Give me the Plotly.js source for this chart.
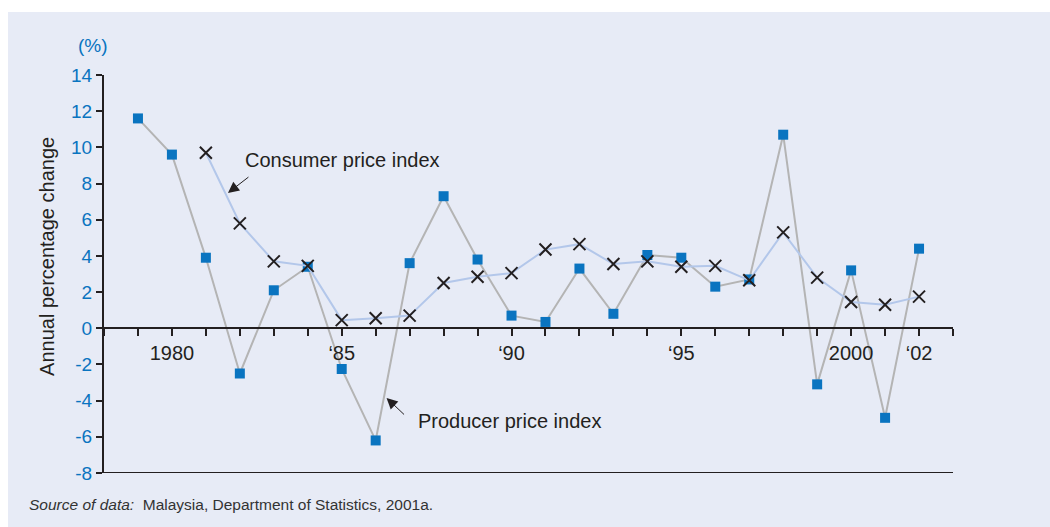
<!DOCTYPE html>
<html>
<head>
<meta charset="utf-8">
<script src="https://cdn.plot.ly/plotly-3.0.1.min.js"></script>
<style>
html,body{margin:0;padding:0;background:#ffffff;}
#chart{position:absolute;left:8px;top:12px;width:1042px;height:515px;}
</style>
</head>
<body>
<div id="chart"></div>
<script>
// Data
const ppiYears = [1979,1980,1981,1982,1983,1984,1985,1986,1987,1988,1989,1990,1991,1992,1993,1994,1995,1996,1997,1998,1999,2000,2001,2002];
const ppiValues = [11.6,9.6,3.9,-2.5,2.1,3.4,-2.25,-6.2,3.6,7.3,3.8,0.7,0.35,3.3,0.8,4.05,3.9,2.3,2.7,10.7,-3.1,3.2,-4.95,4.4];
const cpiYears = [1981,1982,1983,1984,1985,1986,1987,1988,1989,1990,1991,1992,1993,1994,1995,1996,1997,1998,1999,2000,2001,2002];
const cpiValues = [9.7,5.8,3.7,3.45,0.45,0.55,0.7,2.5,2.85,3.05,4.35,4.65,3.55,3.7,3.4,3.45,2.65,5.3,2.8,1.45,1.3,1.75];
const xTickVals = [1978,1979,1980,1981,1982,1983,1984,1985,1986,1987,1988,1989,1990,1991,1992,1993,1994,1995,1996,1997,1998,1999,2000,2001,2002,2003];
const xTickText = ['','','1980','','','','','\u201885','','','','','\u201890','','','','','\u201895','','','','','2000','','\u201802',''];
const yTickVals = [-8,-6,-4,-2,0,2,4,6,8,10,12,14];
const yTickText = ['-8','-6','-4','-2','0','2','4','6','8','10','12','14'];

const FONT = '"Liberation Sans Narrow", "Liberation Sans", Arial, sans-serif';
const BLUE = '#0a74c0';
const DARK = '#231f20';

const traces = [
  {
    x: ppiYears, y: ppiValues, type: 'scatter', mode: 'lines+markers',
    name: 'Producer price index',
    line: {color: '#b4b4b4', width: 2},
    marker: {symbol: 'square', size: 10, color: BLUE},
    cliponaxis: false
  },
  {
    x: cpiYears, y: cpiValues, type: 'scatter', mode: 'lines+markers',
    name: 'Consumer price index',
    line: {color: '#b3c7ea', width: 2},
    marker: {symbol: 'x-thin-open', size: 12, color: DARK, line: {color: DARK, width: 2}},
    cliponaxis: false
  }
];

const layout = {
  width: 1042, height: 515,
  paper_bgcolor: '#e7ebf6',
  plot_bgcolor: 'rgba(0,0,0,0)',
  showlegend: false,
  margin: {l: 96, r: 97, t: 63, b: 54},
  font: {family: FONT, color: DARK},
  xaxis: {
    range: [1978, 2003],
    anchor: 'free', position: 8/22,
    showline: true, linecolor: DARK, linewidth: 2,
    showgrid: false, zeroline: false,
    ticks: 'outside', ticklen: 7, tickwidth: 2, tickcolor: DARK,
    tickmode: 'array', tickvals: xTickVals, ticktext: xTickText,
    tickfont: {family: FONT, size: 20, color: DARK},
    fixedrange: true
  },
  yaxis: {
    range: [-8, 14],
    showline: true, linecolor: DARK, linewidth: 2,
    showgrid: false, zeroline: false,
    ticks: 'outside', ticklen: 6, tickwidth: 2, tickcolor: DARK,
    tickmode: 'array', tickvals: yTickVals, ticktext: yTickText,
    tickfont: {family: FONT, size: 19, color: BLUE},
    fixedrange: true
  },
  shapes: [
    {type: 'line', xref: 'paper', yref: 'y', x0: -0.007, x1: 1, y0: -8, y1: -8,
     line: {color: DARK, width: 2}}
  ],
  annotations: [
    {text: '(%)', xref: 'paper', yref: 'paper', x: -0.013, y: 1.075,
     showarrow: false, xanchor: 'center', yanchor: 'middle',
     font: {family: FONT, size: 19, color: BLUE}},
    {text: 'Annual percentage change', xref: 'paper', yref: 'paper', x: -0.0671, y: 0.543,
     textangle: -90, showarrow: false, xanchor: 'center', yanchor: 'middle',
     font: {family: FONT, size: 20, color: DARK}},
    {text: 'Consumer price index', xref: 'x', yref: 'y', x: 1982.09, y: 9.30,
     showarrow: false, xanchor: 'left', yanchor: 'middle',
     font: {family: FONT, size: 20, color: DARK}},
    {text: '', xref: 'x', yref: 'y', x: 1981.65, y: 7.48, ax: 22, ay: -17,
     showarrow: true, arrowhead: 2, arrowsize: 2.2, arrowwidth: 1, arrowcolor: DARK},
    {text: 'Producer price index', xref: 'x', yref: 'y', x: 1987.19, y: -5.12,
     showarrow: false, xanchor: 'left', yanchor: 'middle',
     font: {family: FONT, size: 20, color: DARK}},
    {text: '', xref: 'x', yref: 'y', x: 1986.32, y: -3.85, ax: 19, ay: 18,
     showarrow: true, arrowhead: 2, arrowsize: 2.2, arrowwidth: 1, arrowcolor: DARK},
    {text: '<i>Source of data:</i>  Malaysia, Department of Statistics, 2001a.',
     xref: 'paper', yref: 'paper', x: -0.0907, y: -0.0804,
     showarrow: false, xanchor: 'left', yanchor: 'middle',
     font: {family: FONT, size: 15.5, color: '#333333'}}
  ]
};

Plotly.newPlot('chart', traces, layout, {displayModeBar: false, staticPlot: true});
</script>
</body>
</html>
